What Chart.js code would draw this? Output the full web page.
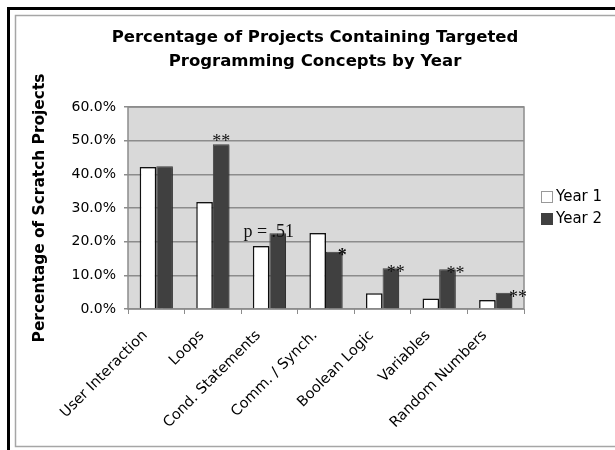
<!DOCTYPE html>
<html>
<head>
<meta charset="utf-8">
<script src="https://cdn.jsdelivr.net/npm/chart.js@4"></script>
<style>
  html, body { margin: 0; padding: 0; background: #fff; }
  #wrap { width: 615px; height: 450px; }
</style>
</head>
<body>
<div id="wrap"><canvas id="myChart" width="615" height="450"></canvas></div>
<script>
const categories = ["User Interaction", "Loops", "Cond. Statements", "Comm. / Synch.",
  "Boolean Logic", "Variables", "Random Numbers"];
const year1 = [42.2, 31.8, 18.7, 22.6, 4.7, 3.1, 2.7];
const year2 = [42.4, 48.9, 22.5, 17.0, 12.1, 11.8, 4.8];
const yTicks = [0, 10, 20, 30, 40, 50, 60];
const seriesNames = ["Year 1", "Year 2"];
const titleLines = ["Percentage of Projects Containing Targeted", "Programming Concepts by Year"];
// significance marks placed on the Year 2 bars
const marks = [
  { index: 1, text: "**", dx: 0, dy: 3 },
  { index: 2, text: "p = .51", dx: -9, dy: 4 },
  { index: 3, text: "*", dx: 8, dy: 9 },
  { index: 4, text: "**", dx: 5, dy: 10 },
  { index: 5, text: "**", dx: 8, dy: 10 },
  { index: 6, text: "**", dx: 14, dy: 10 },
];

const sans = "'DejaVu Sans', Verdana, sans-serif";
const serif = "'Liberation Serif', 'Times New Roman', serif";
const DARK = "#404040";
const GRID = "#8c8c8c";

const framePlugin = {
  id: "frame",
  beforeDraw(chart) {
    const { ctx, chartArea: a } = chart;
    ctx.save();
    ctx.fillStyle = "#fff";
    ctx.fillRect(0, 0, chart.width, chart.height);
    // outer black frame (top + left)
    ctx.fillStyle = "#000";
    ctx.fillRect(7, 7, chart.width - 7, 3);
    ctx.fillRect(7, 7, 3, chart.height - 7);
    // inner gray box
    ctx.strokeStyle = "#a6a6a6";
    ctx.lineWidth = 1.5;
    ctx.strokeRect(15.5, 15.5, chart.width + 10, 431);
    // plot area
    ctx.fillStyle = "#d9d9d9";
    ctx.fillRect(a.left, a.top, a.right - a.left, a.bottom - a.top);
    ctx.strokeStyle = GRID;
    ctx.lineWidth = 1.5;
    ctx.strokeRect(a.left, a.top, a.right - a.left, a.bottom - a.top);
    // title (centred on the whole picture, like the original)
    ctx.fillStyle = "#000";
    ctx.font = "bold 16.5px " + sans;
    ctx.textAlign = "center";
    ctx.textBaseline = "middle";
    titleLines.forEach((t, i) => ctx.fillText(t, 315, 38 + i * 24));
    ctx.restore();
  },
  beforeDatasetsDraw(chart) {
    const ctx = chart.ctx;
    ctx.save();
    ctx.shadowColor = "rgba(0,0,0,0.3)";
    ctx.shadowOffsetX = 3;
    ctx.shadowOffsetY = 1;
    ctx.shadowBlur = 1;
  },
  afterDatasetsDraw(chart) {
    const ctx = chart.ctx;
    ctx.restore();
    // significance labels
    const bars = chart.getDatasetMeta(1).data;
    ctx.save();
    ctx.fillStyle = "#111";
    ctx.textAlign = "center";
    ctx.textBaseline = "alphabetic";
    marks.forEach(m => {
      const bar = bars[m.index];
      ctx.font = (m.text === "*" ? "bold " : "") + "18px " + serif;
      ctx.fillText(m.text, bar.x + m.dx, bar.y + m.dy);
    });
    // legend
    const lx = 541, ly = [191, 213];
    ctx.font = "15px " + sans;
    ctx.textAlign = "left";
    ctx.textBaseline = "middle";
    seriesNames.forEach((name, i) => {
      ctx.fillStyle = i === 0 ? "#fff" : DARK;
      ctx.fillRect(lx, ly[i], 12, 12);
      ctx.strokeStyle = i === 0 ? "#999" : DARK;
      ctx.lineWidth = 1;
      ctx.strokeRect(lx + 0.5, ly[i] + 0.5, 11, 11);
      ctx.fillStyle = "#000";
      ctx.fillText(name, lx + 15, ly[i] + 6.5);
    });
    ctx.restore();
  },
};

const ctx = document.getElementById("myChart").getContext("2d");
new Chart(ctx, {
  type: "bar",
  data: {
    labels: categories,
    datasets: [
      {
        label: seriesNames[0],
        data: year1,
        backgroundColor: "#fff",
        borderColor: "#111",
        borderWidth: 1.5,
      },
      {
        label: seriesNames[1],
        data: year2,
        backgroundColor: DARK,
        borderColor: DARK,
        borderWidth: 1,
      },
    ],
  },
  options: {
    responsive: false,
    animation: false,
    categoryPercentage: 0.587,
    barPercentage: 1.0,
    layout: { padding: { left: 24, top: 107, right: 91, bottom: 0 } },
    scales: {
      y: {
        min: 0,
        max: 60,
        afterBuildTicks: (s) => { s.ticks = yTicks.map(v => ({ value: v })); },
        afterFit: (s) => { s.width = 128 - 24; },
        border: { display: false },
        grid: { color: GRID, lineWidth: 1.5, tickLength: 4, drawTicks: true },
        ticks: {
          padding: 8,
          color: "#000",
          font: { family: sans, size: 14 },
          callback: (v) => v.toFixed(1) + "%",
        },
        title: {
          display: true,
          text: "Percentage of Scratch Projects",
          color: "#000",
          font: { family: sans, size: 15.4, weight: "bold" },
          padding: { top: 7, bottom: 0 },
        },
      },
      x: {
        afterFit: (s) => { s.height = 141; },
        border: { display: false },
        grid: { drawOnChartArea: false, color: GRID, lineWidth: 1, tickLength: 5 },
        ticks: {
          minRotation: 45,
          maxRotation: 45,
          padding: 13,
          labelOffset: -11,
          color: "#000",
          font: { family: sans, size: 14.5 },
        },
      },
    },
    plugins: {
      legend: { display: false },
      tooltip: { enabled: false },
      title: { display: false },
    },
  },
  plugins: [framePlugin],
});
</script>
</body>
</html>
